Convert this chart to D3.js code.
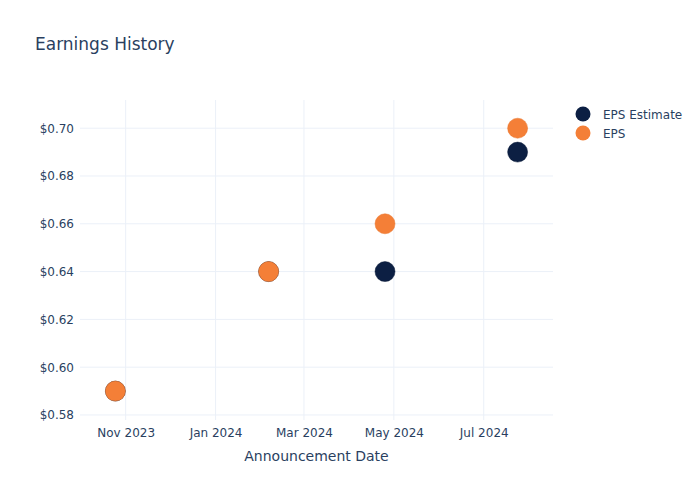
<!DOCTYPE html>
<html><head><meta charset="utf-8">
<script src="https://cdn.jsdelivr.net/npm/d3@7"></script>
<style>body{margin:0;background:#fff;font-family:"DejaVu Sans",sans-serif;}</style>
</head><body><svg id="c" width="700" height="500"></svg>
<script>
const dates = ["2023-10-25","2024-02-06","2024-04-25","2024-07-24"];
const epsEstimate = [0.59, 0.64, 0.64, 0.69];
const eps = [0.59, 0.64, 0.66, 0.70];
const yTicks = [0.58,0.60,0.62,0.64,0.66,0.68,0.70];
const xTicks = ["2023-11-01","2024-01-01","2024-03-01","2024-05-01","2024-07-01"];
const seriesNames = ["EPS Estimate","EPS"];
const colors = ["#0c1f43","#f47f37"];

const parse = d3.utcParse("%Y-%m-%d");
const svg = d3.select("#c");
const L=80,R=553,T=100,B=420;
const x = d3.scaleUtc().domain([parse("2023-10-01"), parse("2024-08-17")]).range([L,R]);
const y = d3.scaleLinear().domain([0.5779,0.7118]).range([B,T]);
const txt="#2a3f5f";
const ff="'DejaVu Sans',sans-serif";

const xAxis = d3.axisBottom(x).tickValues(xTicks.map(parse)).tickFormat(d3.utcFormat("%b %Y")).tickSize(0).tickPadding(8);
const yAxis = d3.axisLeft(y).tickValues(yTicks).tickFormat(d=>"$"+d.toFixed(2)).tickSize(0).tickPadding(6);

svg.append("g").selectAll("line").data(xTicks.map(parse)).join("line")
  .attr("x1",d=>x(d)).attr("x2",d=>x(d)).attr("y1",T).attr("y2",B).attr("stroke","#ebf0f8");
svg.append("g").selectAll("line").data(yTicks).join("line")
  .attr("x1",L).attr("x2",R).attr("y1",d=>y(d)).attr("y2",d=>y(d)).attr("stroke","#ebf0f8");

const gx = svg.append("g").attr("transform",`translate(0,${B})`).call(xAxis);
gx.select(".domain").remove();
gx.selectAll("text").attr("fill",txt).style("font-size","12px").style("font-family",ff);
const gy = svg.append("g").attr("transform",`translate(${L},0)`).call(yAxis);
gy.select(".domain").remove();
gy.selectAll("text").attr("fill",txt).style("font-size","12px").style("font-family",ff);

[epsEstimate, eps].forEach((vals,i)=>{
  svg.append("g").selectAll("circle").data(vals).join("circle")
    .attr("cx",(d,j)=>x(parse(dates[j]))).attr("cy",d=>y(d)).attr("r",10)
    .attr("fill",colors[i]).attr("stroke",i?"#e8762f":"#0a1a38").attr("stroke-width",0.5);
});

svg.append("text").attr("x",35).attr("y",50).text("Earnings History")
  .attr("fill",txt).style("font-size","17px").style("font-family",ff);
svg.append("text").attr("x",(L+R)/2).attr("y",461).attr("text-anchor","middle").text("Announcement Date")
  .attr("fill",txt).style("font-size","14px").style("font-family",ff);

const lg = svg.append("g");
seriesNames.forEach((n,i)=>{
  const yy=114+i*19;
  lg.append("circle").attr("cx",583).attr("cy",yy).attr("r",7.5).attr("fill",colors[i]);
  lg.append("text").attr("x",603).attr("y",yy+4.5).text(n).attr("fill",txt).style("font-size","12px").style("font-family",ff);
});
</script></body></html>
